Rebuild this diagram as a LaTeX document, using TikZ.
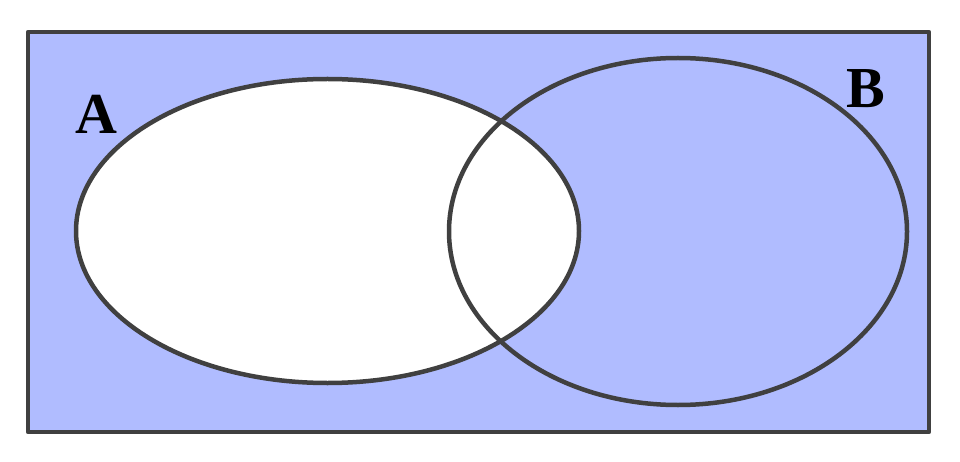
\documentclass[tikz,border=0pt]{standalone}
\usepackage{fontspec}
\setmainfont{Liberation Serif}
\usetikzlibrary{shapes.geometric}
\definecolor{setblue}{RGB}{176,188,255}
\definecolor{edge}{RGB}{64,64,64}
\tikzset{
  setline/.style={draw=edge, line width=4.5pt},
  setell/.style={ellipse, setline, inner sep=0pt, outer sep=0pt},
  setlabel/.style={font=\bfseries\fontsize{58}{62}\selectfont, inner sep=0pt}
}
\begin{document}
\begin{tikzpicture}[x=1pt,y=-1pt]
\useasboundingbox (0,0) rectangle (960,462);
\node[setline, fill=setblue, rectangle, inner sep=0pt, outer sep=0pt,
      minimum width=901pt, minimum height=400pt, line cap=round, line join=round] (U) at (478.5,232) {};
\node[setell, fill=white, minimum width=503pt, minimum height=304pt] (A) at (327.5,231) {};
\node[setell, minimum width=458pt, minimum height=347pt] (B) at (678,231.5) {};
\node[setlabel] (la) at (96,114) {A};
\node[setlabel] (lb) at (866,89) {B};
\end{tikzpicture}
\end{document}
